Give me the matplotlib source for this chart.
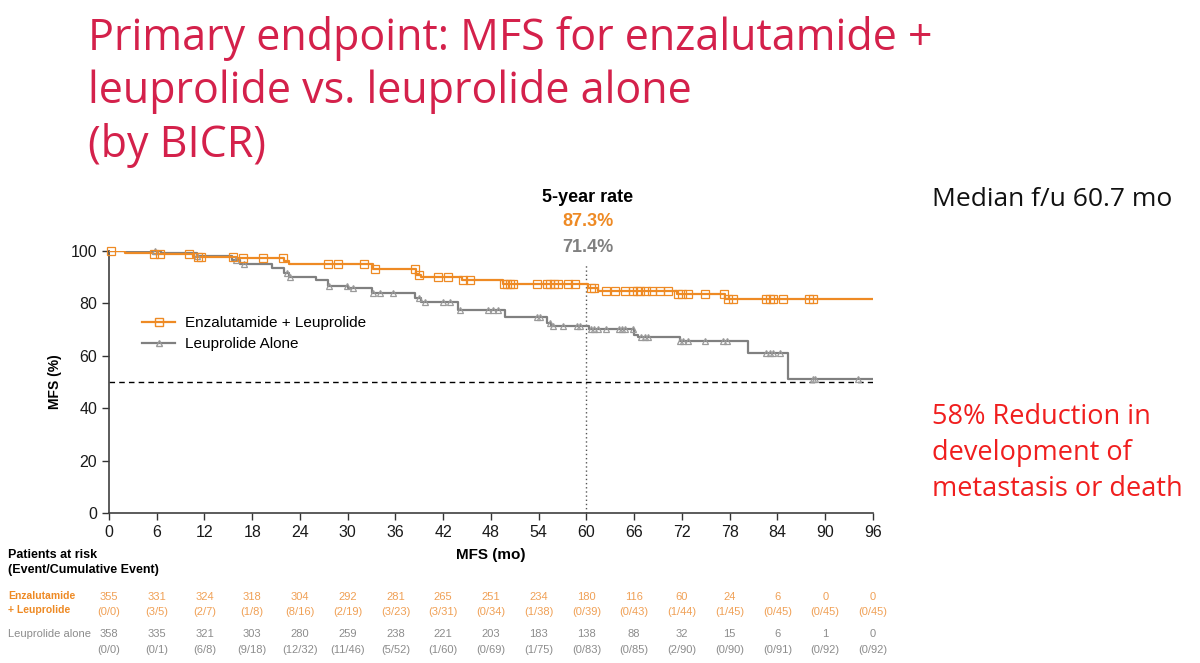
import numpy as np
import matplotlib
matplotlib.use("Agg")
import matplotlib.pyplot as plt
import matplotlib.transforms as mtrans
from matplotlib.lines import Line2D

plt.rcParams['font.family'] = ['Liberation Sans', 'DejaVu Sans']

# ---------------- data ----------------
months_ticks = list(range(0, 97, 6))

enz_times = [0, 2.0, 5.5, 10.5, 16.0, 22.0, 22.6, 33.2, 38.6, 39.2, 44.4, 49.5, 60.2, 61.5, 71.4, 77.4]
enz_surv = [100, 99.3, 98.7, 97.9, 97.3, 96.0, 95.0, 93.0, 91.0, 90.0, 89.0, 87.3, 86.0, 84.8, 83.7, 81.6]
enz_censor = [0.3, 5.6, 6.4, 10.1, 11.2, 11.6, 15.6, 16.8, 19.4, 21.9, 27.5, 28.8, 32.0, 33.4, 38.4, 38.9,
              41.3, 42.6, 44.5, 45.4, 49.6, 50.0, 50.4, 50.8, 53.8, 55.0, 55.4, 55.9, 56.4, 57.7, 58.5,
              60.6, 61.0, 62.5, 63.6, 64.8, 65.9, 66.3, 66.7, 67.5, 68.2, 69.2, 70.2, 71.5, 72.0, 72.7,
              74.9, 77.3, 77.8, 78.4, 82.6, 83.0, 83.4, 84.7, 88.0, 88.5]

leu_times = [0, 6.5, 11.0, 15.5, 16.5, 20.5, 22.0, 22.6, 26.0, 27.5, 30.0, 33.0, 38.5, 39.2, 43.8, 49.7,
             55.0, 55.6, 60.3, 66.0, 66.5, 71.7, 80.3, 85.3]
leu_surv = [100, 99.2, 98.0, 96.5, 95.0, 93.5, 91.5, 90.0, 89.0, 86.5, 85.8, 84.0, 82.0, 80.7, 77.5, 75.0,
            72.5, 71.4, 70.3, 68.0, 67.3, 65.8, 61.0, 51.0]
leu_censor = [5.8, 11.1, 16.0, 17.0, 22.4, 22.8, 27.6, 29.9, 30.7, 33.2, 34.0, 35.7, 39.0, 39.7, 42.0, 42.8,
              44.1, 47.6, 48.2, 48.9, 53.8, 54.1, 55.4, 55.8, 57.0, 58.8, 59.2, 60.6, 61.0, 61.4, 62.4,
              64.1, 64.5, 64.9, 65.8, 66.9, 67.3, 67.7, 71.7, 72.1, 72.7, 74.9, 77.1, 77.6, 82.6, 83.0,
              83.4, 84.3, 88.4, 88.7, 94.1]

enz_risk = [355, 331, 324, 318, 304, 292, 281, 265, 251, 234, 180, 116, 60, 24, 6, 0, 0]
enz_events = ["(0/0)", "(3/5)", "(2/7)", "(1/8)", "(8/16)", "(2/19)", "(3/23)", "(3/31)", "(0/34)",
              "(1/38)", "(0/39)", "(0/43)", "(1/44)", "(1/45)", "(0/45)", "(0/45)", "(0/45)"]
leu_risk = [358, 335, 321, 303, 280, 259, 238, 221, 203, 183, 138, 88, 32, 15, 6, 1, 0]
leu_events = ["(0/0)", "(0/1)", "(6/8)", "(9/18)", "(12/32)", "(11/46)", "(5/52)", "(1/60)", "(0/69)",
              "(1/75)", "(0/83)", "(0/85)", "(2/90)", "(0/90)", "(0/91)", "(0/92)", "(0/92)"]

rate_enz = "87.3%"
rate_leu = "71.4%"

# ---------------- styles ----------------
ORANGE = '#EE8A24'
ORANGE_T = '#F0A055'
GRAY = '#808080'
GRAY_M = '#9A9A9A'
GRAY_T = '#8C8C8C'
TITLE_RED = '#D4214B'
SANS2 = ['Open Sans', 'DejaVu Sans']

fig = plt.figure(figsize=(12, 6.63), dpi=100)
ax = fig.add_axes([0.0908, 0.2262, 0.6367, 0.3952])


def censor_y(times, surv, c):
    idx = np.searchsorted(np.array(times), np.array(c), side='right') - 1
    return np.array(surv)[idx]


# step curves
ax.step(enz_times + [96], enz_surv + [enz_surv[-1]], where='post', color=ORANGE, lw=1.6, zorder=4)
ax.step(leu_times + [96], leu_surv + [leu_surv[-1]], where='post', color=GRAY, lw=1.6, zorder=3)
ax.plot(enz_censor, censor_y(enz_times, enz_surv, enz_censor), ls='none', marker='s', ms=5.5,
        mfc='none', mec=ORANGE, mew=0.9, zorder=5, clip_on=False)
ax.plot(leu_censor, censor_y(leu_times, leu_surv, leu_censor), ls='none', marker='^', ms=4.5,
        mfc='none', mec=GRAY_M, mew=0.9, zorder=4, clip_on=False)

ax.plot([0, 96], [50, 50], ls=(0, (4, 3)), color='black', lw=1.0, zorder=2)
ax.plot([60, 60], [0, 95], ls=(0, (1, 2)), color='#555555', lw=1.0, zorder=2)

ax.set_xlim(0, 96)
ax.set_ylim(0, 100)
ax.set_xticks(months_ticks)
ax.set_yticks(range(0, 101, 20))
ax.tick_params(axis='both', labelsize=11.5, length=5, width=1, colors='#333333', labelcolor='#1a1a1a')
ax.spines['top'].set_visible(False)
ax.spines['right'].set_visible(False)
for s in ['left', 'bottom']:
    ax.spines[s].set_color('#404040')
    ax.spines[s].set_linewidth(1.2)
ax.set_xlabel("MFS (mo)", fontsize=11, fontweight='bold', labelpad=6)
ax.set_ylabel("MFS (%)", fontsize=10, fontweight='bold', labelpad=6)

handles = [Line2D([], [], color=ORANGE, lw=1.6, marker='s', ms=5.5, mfc='none', mec=ORANGE),
           Line2D([], [], color=GRAY, lw=1.6, marker='^', ms=4.5, mfc='none', mec=GRAY_M)]
ax.legend(handles, ["Enzalutamide + Leuprolide", "Leuprolide Alone"], loc='upper left',
          bbox_to_anchor=(0.025, 0.805), frameon=False, fontsize=11, handlelength=2.2,
          handletextpad=0.6, labelspacing=0.5)

# 5-year rate annotation
fig.text(588 / 1200, 1 - 197 / 663, "5-year rate", ha='center', va='center', fontsize=13,
         fontweight='bold', color='black')
fig.text(588 / 1200, 1 - 222 / 663, rate_enz, ha='center', va='center', fontsize=13,
         fontweight='bold', color=ORANGE)
fig.text(588 / 1200, 1 - 247 / 663, rate_leu, ha='center', va='center', fontsize=13,
         fontweight='bold', color=GRAY)

# title
fig.text(88 / 1200, 1 - 16 / 663, "Primary endpoint: MFS for enzalutamide +\nleuprolide vs. leuprolide alone\n(by BICR)",
         ha='left', va='top', fontsize=31, color=TITLE_RED, family=SANS2, linespacing=1.25)

# right-side notes
fig.text(932 / 1200, 1 - 200 / 663, "Median f/u 60.7 mo", ha='left', va='center', fontsize=19,
         color='#111111', family=SANS2)
fig.text(932 / 1200, 1 - 453 / 663, "58% Reduction in\ndevelopment of\nmetastasis or death", ha='left',
         va='center', fontsize=19.5, color='#F01E1E', family=SANS2, linespacing=1.38)

# risk table
tr = mtrans.blended_transform_factory(ax.transData, fig.transFigure)
fig.text(8 / 1200, 1 - 555 / 663, "Patients at risk", ha='left', va='center', fontsize=9, fontweight='bold')
fig.text(8 / 1200, 1 - 570 / 663, "(Event/Cumulative Event)", ha='left', va='center', fontsize=9,
         fontweight='bold')
fig.text(8 / 1200, 1 - 603 / 663, "Enzalutamide\n+ Leuprolide", ha='left', va='center', fontsize=7.5,
         fontweight='bold', color=ORANGE, linespacing=1.5)
fig.text(8 / 1200, 1 - 634 / 663, "Leuprolide alone", ha='left', va='center', fontsize=8, color=GRAY_T)
for m, r, e in zip(months_ticks, enz_risk, enz_events):
    ax.text(m, 1 - 597 / 663, str(r), transform=tr, ha='center', va='center', fontsize=8, color=ORANGE_T)
    ax.text(m, 1 - 612 / 663, e, transform=tr, ha='center', va='center', fontsize=8, color=ORANGE_T)
for m, r, e in zip(months_ticks, leu_risk, leu_events):
    ax.text(m, 1 - 634 / 663, str(r), transform=tr, ha='center', va='center', fontsize=8, color=GRAY_T)
    ax.text(m, 1 - 650 / 663, e, transform=tr, ha='center', va='center', fontsize=8, color=GRAY_T)

fig.savefig("out.png", dpi=100)
